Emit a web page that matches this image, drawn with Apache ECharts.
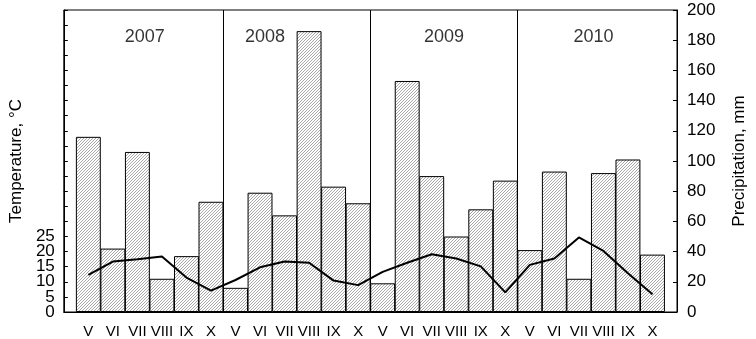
<!DOCTYPE html>
<html>
<head>
<meta charset="utf-8">
<script src="https://cdn.jsdelivr.net/npm/echarts@6/dist/echarts.min.js"></script>
<style>
  html, body { margin: 0; padding: 0; background: #fff; }
  #main { width: 756px; height: 339px; }
</style>
</head>
<body>
<div id="main"></div>
<script>
// data
var years = ['2007', '2008', '2009', '2010']
var months = ['V', 'VI', 'VII', 'VIII', 'IX', 'X']
// precipitation, mm (bars, right axis)
var precip2007 = [116, 42, 106, 22, 37, 73]
var precip2008 = [16, 79, 64, 186, 83, 72]
var precip2009 = [19, 153, 90, 50, 68, 87]
var precip2010 = [41, 93, 22, 92, 101, 38]
// temperature, °C (line, left axis)
var temp2007 = [12.3, 16.7, 17.5, 18.4, 11.4, 7.1]
var temp2008 = [10.6, 14.8, 16.7, 16.3, 10.4, 8.9]
var temp2009 = [13.3, 16.3, 19.1, 17.7, 15.1, 6.5]
var temp2010 = [15.6, 17.7, 24.7, 20.2, 12.8, 5.9]
var tempTicks = [0, 5, 10, 15, 20, 25]

// layout
var gridLeft = 60, gridRight = 73, gridTop = 10, gridBottom = 26
var chartW = 756
var yearLabelAt = [2.3, 7.2, 14.5, 20.6] // x position (bar index units)
var yearLabelLevel = 182 // on precipitation scale
var font = 'Liberation Sans, Arial, sans-serif'

var precip = [].concat(precip2007, precip2008, precip2009, precip2010)
var temp = [].concat(temp2007, temp2008, temp2009, temp2010)
var catLabels = []
years.forEach(function () { catLabels = catLabels.concat(months) })

// hatch pattern
var hatch = document.createElement('canvas')
hatch.width = 3
hatch.height = 3
var hctx = hatch.getContext('2d')
hctx.fillStyle = '#fff'
hctx.fillRect(0, 0, 3, 3)
hctx.fillStyle = '#a8a8a8'
for (var i = 0; i < 3; i++) hctx.fillRect(2 - i, i, 1, 1)

var barW = (chartW - gridLeft - gridRight) / 25

// temp labels are split over two stacked left axes (labels are 15px apart,
// echarts would hide every other one otherwise)
function tempLabel(even) {
  return function (v) {
    if (tempTicks.indexOf(v) < 0) return ''
    return ((v % 10 === 0) === even) ? String(v) : ''
  }
}

var chart = echarts.init(document.getElementById('main'))
var option = {
  animation: false,
  textStyle: { fontFamily: font },
  grid: {
    left: gridLeft, right: gridRight, top: gridTop, bottom: gridBottom,
    show: true, borderColor: '#000', borderWidth: 1, backgroundColor: 'transparent'
  },
  xAxis: {
    type: 'value',
    min: -1, max: 24, interval: 1,
    splitLine: { show: false },
    axisLine: { onZero: false, lineStyle: { color: '#000', width: 1 } },
    axisTick: { inside: true, length: 4, lineStyle: { color: '#000' } },
    axisLabel: {
      color: '#000', fontSize: 15, margin: 12, fontFamily: font,
      formatter: function (v) { return catLabels[v] || '' }
    }
  },
  yAxis: [
    {
      type: 'value',
      position: 'left',
      min: 0, max: 100, interval: 5,
      name: 'Temperature, °C',
      nameLocation: 'middle',
      nameRotate: 90,
      nameGap: 37,
      nameTextStyle: { color: '#000', fontSize: 17, fontFamily: font },
      splitLine: { show: false },
      axisLine: { show: true, onZero: false, lineStyle: { color: '#000' } },
      axisTick: { inside: true, length: 4, lineStyle: { color: '#000' } },
      axisLabel: {
        color: '#000', fontSize: 17, margin: 9, fontFamily: font,
        showMinLabel: true, formatter: tempLabel(true)
      }
    },
    {
      type: 'value',
      position: 'right',
      min: 0, max: 200, interval: 20,
      name: 'Precipitation, mm',
      nameLocation: 'middle',
      nameRotate: 90,
      nameGap: 54,
      nameTextStyle: { color: '#000', fontSize: 17, fontFamily: font },
      splitLine: { show: false },
      axisLine: { show: true, onZero: false, lineStyle: { color: '#000' } },
      axisTick: { inside: true, length: 4, lineStyle: { color: '#000' } },
      axisLabel: { color: '#000', fontSize: 17, margin: 10, fontFamily: font, showMinLabel: true }
    },
    {
      type: 'value',
      position: 'left',
      offset: 0,
      min: 0, max: 100, interval: 5,
      splitLine: { show: false },
      axisLine: { show: false, onZero: false },
      axisTick: { show: false },
      axisLabel: {
        color: '#000', fontSize: 17, margin: 9, fontFamily: font,
        showMinLabel: false, formatter: tempLabel(false)
      }
    }
  ],
  series: [
    {
      type: 'bar',
      yAxisIndex: 1,
      barWidth: barW,
      data: precip.map(function (v, i) { return [i, v] }),
      itemStyle: {
        color: { image: hatch, repeat: 'repeat' },
        borderColor: '#000',
        borderWidth: 1
      },
      markLine: {
        silent: true,
        symbol: 'none',
        label: { show: false },
        lineStyle: { color: '#000', width: 1, type: 'solid' },
        data: [{ xAxis: 5.5 }, { xAxis: 11.5 }, { xAxis: 17.5 }]
      }
    },
    {
      type: 'line',
      yAxisIndex: 0,
      data: temp.map(function (v, i) { return [i, v] }),
      symbol: 'none',
      lineStyle: { color: '#000', width: 2 },
      z: 5
    },
    {
      type: 'scatter',
      yAxisIndex: 1,
      symbolSize: 0,
      data: years.map(function (y, i) { return [yearLabelAt[i], yearLabelLevel, y] }),
      label: {
        show: true,
        position: 'inside',
        color: '#000',
        fontSize: 18,
        fontFamily: font,
        formatter: function (p) { return p.data[2] }
      }
    }
  ]
}
chart.setOption(option)
</script>
</body>
</html>
